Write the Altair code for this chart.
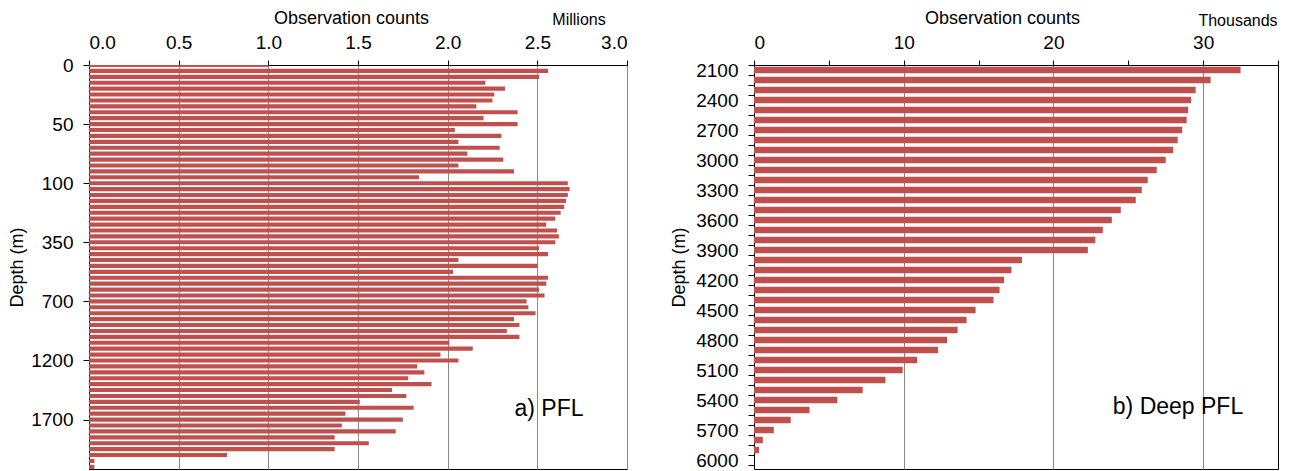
import altair as alt
import pandas as pd

# ---------------- data ----------------
pfl_depths = [0, 5, 10, 15, 20, 25, 30, 35, 40, 45, 50, 55, 60, 65, 70, 75, 80, 85, 90, 95, 100,
              125, 150, 175, 200, 225, 250, 275, 300, 325, 350, 375, 400, 425, 450, 475, 500,
              550, 600, 650, 700, 750, 800, 850, 900, 950, 1000, 1050, 1100, 1150, 1200, 1250,
              1300, 1350, 1400, 1450, 1500, 1550, 1600, 1650, 1700, 1750, 1800, 1850, 1900, 1950,
              2000, 2100, 2200]
pfl_counts = [1.00, 2.56, 2.51, 2.21, 2.32, 2.26, 2.25, 2.16, 2.39, 2.20, 2.39, 2.04, 2.30, 2.06,
              2.29, 2.11, 2.31, 2.06, 2.37, 1.84, 2.67,
              2.68, 2.67, 2.66, 2.65, 2.63, 2.60, 2.55, 2.61, 2.62, 2.60, 2.51, 2.56, 2.06, 2.50,
              2.03, 2.56,
              2.55, 2.51, 2.54, 2.44, 2.45, 2.49, 2.37, 2.40, 2.33, 2.40, 2.01, 2.14, 1.96, 2.06,
              1.83, 1.87, 1.78, 1.91, 1.69, 1.77, 1.51, 1.81, 1.43, 1.75, 1.41, 1.71, 1.37, 1.56,
              1.37, 0.77, 0.03, 0.03]
pfl_label_idx = [0, 10, 20, 30, 40, 50, 60]
pfl_x_ticks = [0.0, 0.5, 1.0, 1.5, 2.0, 2.5, 3.0]

deep_depths = [2100, 2200, 2300, 2400, 2500, 2600, 2700, 2800, 2900, 3000, 3100, 3200, 3300,
               3400, 3500, 3600, 3700, 3800, 3900, 4000, 4100, 4200, 4300, 4400, 4500, 4600,
               4700, 4800, 4900, 5000, 5100, 5200, 5300, 5400, 5500, 5600, 5700, 5800, 5900, 6000]
deep_counts = [32.5, 30.5, 29.5, 29.2, 29.0, 28.9, 28.6, 28.3, 28.0, 27.5, 26.9, 26.3, 25.9,
               25.5, 24.5, 23.9, 23.3, 22.8, 22.3, 17.9, 17.2, 16.7, 16.4, 16.0, 14.8, 14.2,
               13.6, 12.9, 12.3, 10.9, 9.93, 8.78, 7.26, 5.57, 3.71, 2.45, 1.32, 0.59, 0.34, 0.0]
deep_x_ticks = [0, 5, 10, 15, 20, 25, 30, 35]

# ---------------- style ----------------
FONT = "Liberation Sans"
BAR = "#C0504D"
GRID = "#8a8a8a"
LABEL_SIZE = 19
TITLE_SIZE = 18

pfl_df = pd.DataFrame({"depth": pfl_depths, "count": pfl_counts})
pfl_df["idx"] = list(range(len(pfl_df)))
deep_df = pd.DataFrame({"depth": deep_depths, "count": deep_counts})
deep_df["idx"] = list(range(len(deep_df)))

pfl_arr = "[" + ",".join("'%d'" % d for d in pfl_depths) + "]"
deep_arr = "[" + ",".join("'%d'" % d for d in deep_depths) + "]"

# ---------------- left panel ----------------
left_bars = (
    alt.Chart(pfl_df)
    .transform_calculate(lo="datum.idx - 0.35", hi="datum.idx + 0.35", zero="0")
    .mark_rect(color=BAR, clip=True)
    .encode(
        x=alt.X("count:Q",
                scale=alt.Scale(domain=[0, 3], nice=False),
                axis=alt.Axis(orient="top", values=pfl_x_ticks, format=".1f",
                              title="Observation counts", titleX=262, grid=True, gridColor=GRID,
                              tickSize=5, labelPadding=8, titlePadding=6)),
        x2="zero:Q",
        y=alt.Y("lo:Q",
                scale=alt.Scale(domain=[0, 68.36], reverse=True, nice=False, zero=False),
                axis=alt.Axis(values=pfl_label_idx, labelExpr=pfl_arr + "[datum.value]",
                              title="Depth (m)", grid=False, tickSize=6, labelPadding=10,
                              titlePadding=4, labelOverlap=False)),
        y2="hi:Q",
    )
)

left_unit = alt.Chart(pd.DataFrame({"t": ["Millions"]})).mark_text(
    font=FONT, fontSize=16, color="black", align="center", baseline="middle"
).encode(text="t:N", x=alt.value(490), y=alt.value(-45))

left_tag = alt.Chart(pd.DataFrame({"t": ["a) PFL"]})).mark_text(
    font=FONT, fontSize=23, color="black", align="center", baseline="middle"
).encode(text="t:N", x=alt.value(460), y=alt.value(344))

left = alt.layer(left_bars, left_unit, left_tag).properties(width=538, height=404)

# ---------------- right panel ----------------
right_bars = (
    alt.Chart(deep_df)
    .transform_calculate(lo="datum.idx + 0.175", hi="datum.idx + 0.825", zero="0")
    .mark_rect(color=BAR, clip=True)
    .encode(
        x=alt.X("count:Q",
                scale=alt.Scale(domain=[0, 35], nice=False),
                axis=alt.Axis(orient="top", values=deep_x_ticks,
                              labelExpr="datum.value % 10 === 0 && datum.value < 35 ? datum.label : ''",
                              title="Observation counts", titleX=248, grid=True, gridColor=GRID,
                              gridOpacity={"condition": {"test": "datum.value % 10 === 0", "value": 1},
                                           "value": 0},
                              tickSize=5, labelPadding=8, titlePadding=6, labelOverlap=False)),
        x2="zero:Q",
        y=alt.Y("lo:Q",
                scale=alt.Scale(domain=[0, 40.4], reverse=True, nice=False, zero=False),
                axis=alt.Axis(values=list(range(41)),
                              labelExpr="datum.value % 3 === 0 && datum.value < 40 ? " + deep_arr + "[datum.value] : ''",
                              labelOffset=5, title="Depth (m)", grid=False, tickSize=6,
                              labelPadding=10, titlePadding=7, labelOverlap=False)),
        y2="hi:Q",
    )
)

right_unit = alt.Chart(pd.DataFrame({"t": ["Thousands"]})).mark_text(
    font=FONT, fontSize=16, color="black", align="center", baseline="middle"
).encode(text="t:N", x=alt.value(484), y=alt.value(-44))

right_tag = alt.Chart(pd.DataFrame({"t": ["b) Deep PFL"]})).mark_text(
    font=FONT, fontSize=23, color="black", align="center", baseline="middle"
).encode(text="t:N", x=alt.value(424), y=alt.value(342))

right = alt.layer(right_bars, right_unit, right_tag).properties(width=524, height=404)

chart = (
    alt.hconcat(left, right, spacing=42)
    .configure(background="white", padding=0)
    .configure_view(stroke="black", strokeWidth=1)
    .configure_axis(
        labelFont=FONT, titleFont=FONT, labelFontSize=LABEL_SIZE, titleFontSize=TITLE_SIZE,
        labelColor="black", titleColor="black", titleFontWeight="normal",
        domainColor="black", tickColor="black", domainWidth=1, tickWidth=1, gridWidth=1,
    )
)

chart.save("out.html", embed_options={"renderer": "svg", "actions": False})
